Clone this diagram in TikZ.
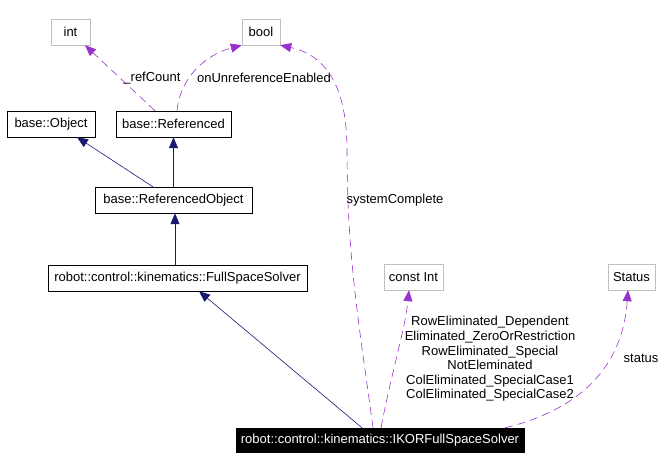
\documentclass[tikz,border=0pt]{standalone}
\usepackage{fontspec}
\setmainfont{Liberation Sans}
\usetikzlibrary{arrows.meta}
\definecolor{edgenavy}{RGB}{25,25,112}
\definecolor{edgeorchid}{RGB}{153,50,204}
\definecolor{boxgray}{RGB}{191,191,191}
\tikzset{
  cls/.style={
    draw=black, fill=white,
    minimum height=26pt,
    inner xsep=4pt, inner ysep=0pt,
    font=\fontsize{13}{15}\selectfont
  },
  typebox/.style={cls, draw=boxgray},
  curbox/.style={cls, fill=black, text=white, minimum height=24pt},
  inherit/.style={-{Triangle[length=11pt,width=9pt]}, edgenavy, semithick},
  uses/.style={-{Triangle[length=11pt,width=9pt]}, edgeorchid, semithick, dash pattern=on 8pt off 5pt},
  elabel/.style={font=\fontsize{13}{14.6}\selectfont, align=center, inner sep=0pt}
}

\begin{document}
\begin{tikzpicture}[x=1pt, y=-1pt]
\useasboundingbox (0,0) rectangle (670,470);

% Types used as members
\node[typebox, minimum width=39pt] (int) at (70.5,32) {int};
\node[typebox, minimum width=38pt] (bool) at (261,32) {bool};
\node[typebox, minimum width=59pt] (cint) at (413.5,277) {const Int};
\node[typebox, minimum width=47pt] (status) at (631.5,277) {Status};

% Class hierarchy
\node[cls, minimum width=88pt] (obj) at (51,124) {base::Object};
\node[cls, minimum width=115pt] (ref) at (173.5,124) {base::Referenced};
\node[cls, minimum width=157pt] (refobj) at (173.5,200) {base::ReferencedObject};
\node[cls, minimum width=259pt] (fss) at (177.5,278) {robot::control::kinematics::FullSpaceSolver};
\node[curbox, minimum width=288pt] (ikor) at (380,440) {robot::control::kinematics::IKORFullSpaceSolver};

% Inheritance
\draw[inherit] (refobj.north -| {153,0}) -- (obj.south -| {77,0});
\draw[inherit] (refobj.north) -- (ref.south);
\draw[inherit] (fss.north -| {175,0}) -- (refobj.south -| {175,0});
\draw[inherit] (ikor.north -| {362,0}) -- (fss.south -| {199,0});

% Members of base::Referenced
\draw[uses] (ref.north -| {155,0}) -- (int.south -| {85,0});
\node[elabel] (lrefcount) at (152,78) {\_refCount};
\draw[uses] (ref.north -| {177,0}) .. controls (180,78) and (205,55) .. (bool.south west);
\node[elabel] (lunref) at (264,78) {onUnreferenceEnabled};

% Members of IKORFullSpaceSolver
\draw[uses] (ikor.north -| {373,0}) .. controls (360,330) and (347,260) .. (347,150)
  .. controls (347,85) and (325,55) .. (bool.south east);
\node[elabel] (lsyscomplete) at (395,200) {systemComplete};

\draw[uses] (ikor.north -| {381,0}) .. controls (392,370) and (405,330) .. (cint.south -| {409,0});
\node[elabel] (lconst) at (490,359) {RowEliminated\_Dependent\\Eliminated\_ZeroOrRestriction\\RowEliminated\_Special\\NotEleminated\\ColEliminated\_SpecialCase1\\ColEliminated\_SpecialCase2};

\draw[uses] (ikor.north -| {505,0}) .. controls (570,412) and (622,375) .. (status.south -| {628,0});
\node[elabel] (lstatus) at (641,358) {status};

\end{tikzpicture}
\end{document}
